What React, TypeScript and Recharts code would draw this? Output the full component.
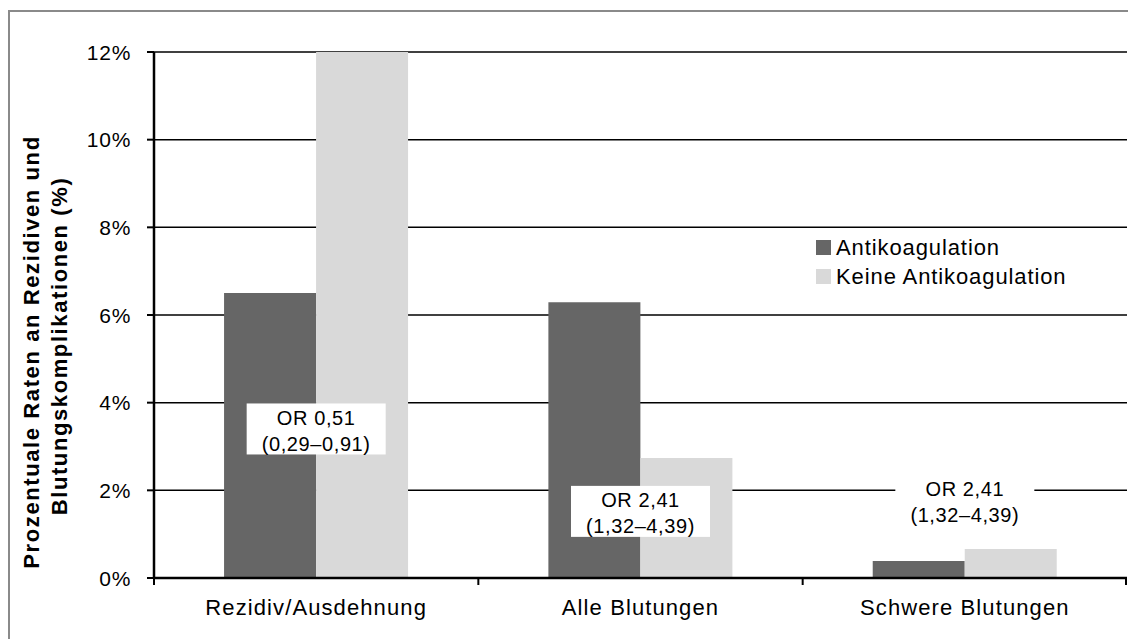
import React from "react";
import {
  BarChart,
  Bar,
  XAxis,
  YAxis,
  CartesianGrid,
  Legend,
  ReferenceDot,
} from "recharts";

const categories = ["Rezidiv/Ausdehnung", "Alle Blutungen", "Schwere Blutungen"];
const antikoagulation = [6.5, 6.29, 0.39];
const keineAntikoagulation = [12.0, 2.74, 0.66];
const yTicks = [0, 2, 4, 6, 8, 10, 12];

// OR annotations per category
const orLabels = ["OR 0,51", "OR 2,41", "OR 2,41"];
const ciLabels = ["(0,29–0,91)", "(1,32–4,39)", "(1,32–4,39)"];
const orPositions = [3.4, 1.52, 1.79];

const FONT = "'Liberation Sans', Arial, Helvetica, sans-serif";
const DARK = "#666666";
const LIGHT = "#d9d9d9";

const W = 1128;
const H = 639;
const MARGIN = { top: 52, right: 1, bottom: 0, left: 0 };
const Y_AXIS_W = 154;
const X_AXIS_H = 61;
const BAND = (W - MARGIN.right - Y_AXIS_W) / categories.length;

const data = categories.map((name, i) => ({
  name,
  anti: antikoagulation[i],
  keine: keineAntikoagulation[i],
}));

const YTick = (props: any) => {
  const { x, y, payload } = props;
  return (
    <text x={x} y={y} dy="0.36em" textAnchor="end" fontFamily={FONT} fontSize={21} letterSpacing={0.7} fill="#000">
      {payload.value}%
    </text>
  );
};

// category label plus Excel-style tick marks on the category boundaries
const XTick = (props: any) => {
  const { x, y, payload, index } = props;
  const left = x - BAND / 2;
  const right = x + BAND / 2;
  return (
    <g>
      <line x1={left} x2={left} y1={y} y2={y + 7} stroke="#000" strokeWidth={2} />
      {index === categories.length - 1 && (
        <line x1={right - 1} x2={right - 1} y1={y} y2={y + 7} stroke="#000" strokeWidth={2} />
      )}
      <text x={x} y={y + 37} textAnchor="middle" fontFamily={FONT} fontSize={22} letterSpacing={1.1} fill="#000">
        {payload.value}
      </text>
    </g>
  );
};

const OrBox = (i: number) => (props: any) => {
  const { cx, cy } = props;
  return (
    <g>
      <rect x={cx - 69.5} y={cy - 25.5} width={139} height={51} fill="#fff" />
      <text x={cx} y={cy - 11} dominantBaseline="central" textAnchor="middle" fontFamily={FONT} fontSize={20} letterSpacing={0.6} fill="#000">
        {orLabels[i]}
      </text>
      <text x={cx} y={cy + 15} dominantBaseline="central" textAnchor="middle" fontFamily={FONT} fontSize={20} letterSpacing={0.6} fill="#000">
        {ciLabels[i]}
      </text>
    </g>
  );
};

const LegendContent = (props: any) => {
  const { payload } = props;
  return (
    <div style={{ fontFamily: FONT }}>
      {payload.map((entry: any) => (
        <div key={entry.value} style={{ display: "flex", alignItems: "center", height: 29 }}>
          <span style={{ display: "inline-block", width: 15, height: 15, background: entry.color, marginRight: 5 }} />
          <span style={{ fontSize: 22, letterSpacing: 0.9, color: "#000" }}>{entry.value}</span>
        </div>
      ))}
    </div>
  );
};

export default function App() {
  return (
    <div style={{ position: "absolute", left: 0, top: 0, width: W, height: H, background: "#fff", overflow: "hidden" }}>
      <div
        style={{
          position: "absolute",
          left: 8,
          top: 10,
          width: 1200,
          height: 700,
          borderLeft: "2px solid #8a8a8a",
          borderTop: "2px solid #8a8a8a",
        }}
      />
      <div style={{ position: "absolute", left: 0, top: 0 }}>
        <BarChart
          width={W}
          height={H}
          data={data}
          margin={MARGIN}
          barGap={0}
          barCategoryGap="21.6%"
        >
          <CartesianGrid horizontal vertical={false} stroke="#000" strokeWidth={1.5} />
          <XAxis
            dataKey="name"
            height={X_AXIS_H}
            tickLine={false}
            tickSize={0}
            tickMargin={0}
            tick={<XTick />}
            axisLine={{ stroke: "#000", strokeWidth: 2.5 }}
            interval={0}
          />
          <YAxis
            width={Y_AXIS_W}
            domain={[0, 12]}
            ticks={yTicks}
            tickSize={7}
            tickMargin={16}
            tick={<YTick />}
            tickLine={{ stroke: "#000", strokeWidth: 2 }}
            axisLine={{ stroke: "#000", strokeWidth: 2.5 }}
          />
          <Legend
            layout="horizontal"
            verticalAlign="middle"
            align="center"
            content={<LegendContent />}
            wrapperStyle={{ position: "absolute", left: 816, top: 233, width: 300 }}
          />
          <Bar dataKey="anti" name="Antikoagulation" fill={DARK} isAnimationActive={false} />
          <Bar dataKey="keine" name="Keine Antikoagulation" fill={LIGHT} isAnimationActive={false} />
          {categories.map((c, i) => (
            <ReferenceDot key={c} x={c} y={orPositions[i]} r={0} shape={OrBox(i)} ifOverflow="visible" />
          ))}
        </BarChart>
      </div>
      <svg style={{ position: "absolute", left: 0, top: 0 }} width={120} height={H}>
        <text
          transform="translate(31, 352) rotate(-90)"
          textAnchor="middle"
          dominantBaseline="central"
          fontFamily={FONT}
          fontWeight="bold"
          fontSize={22}
          letterSpacing={1.6}
          fill="#000"
        >
          Prozentuale Raten an Rezidiven und
        </text>
        <text
          transform="translate(59, 346) rotate(-90)"
          textAnchor="middle"
          dominantBaseline="central"
          fontFamily={FONT}
          fontWeight="bold"
          fontSize={22}
          letterSpacing={1.6}
          fill="#000"
        >
          Blutungskomplikationen (%)
        </text>
      </svg>
    </div>
  );
}
